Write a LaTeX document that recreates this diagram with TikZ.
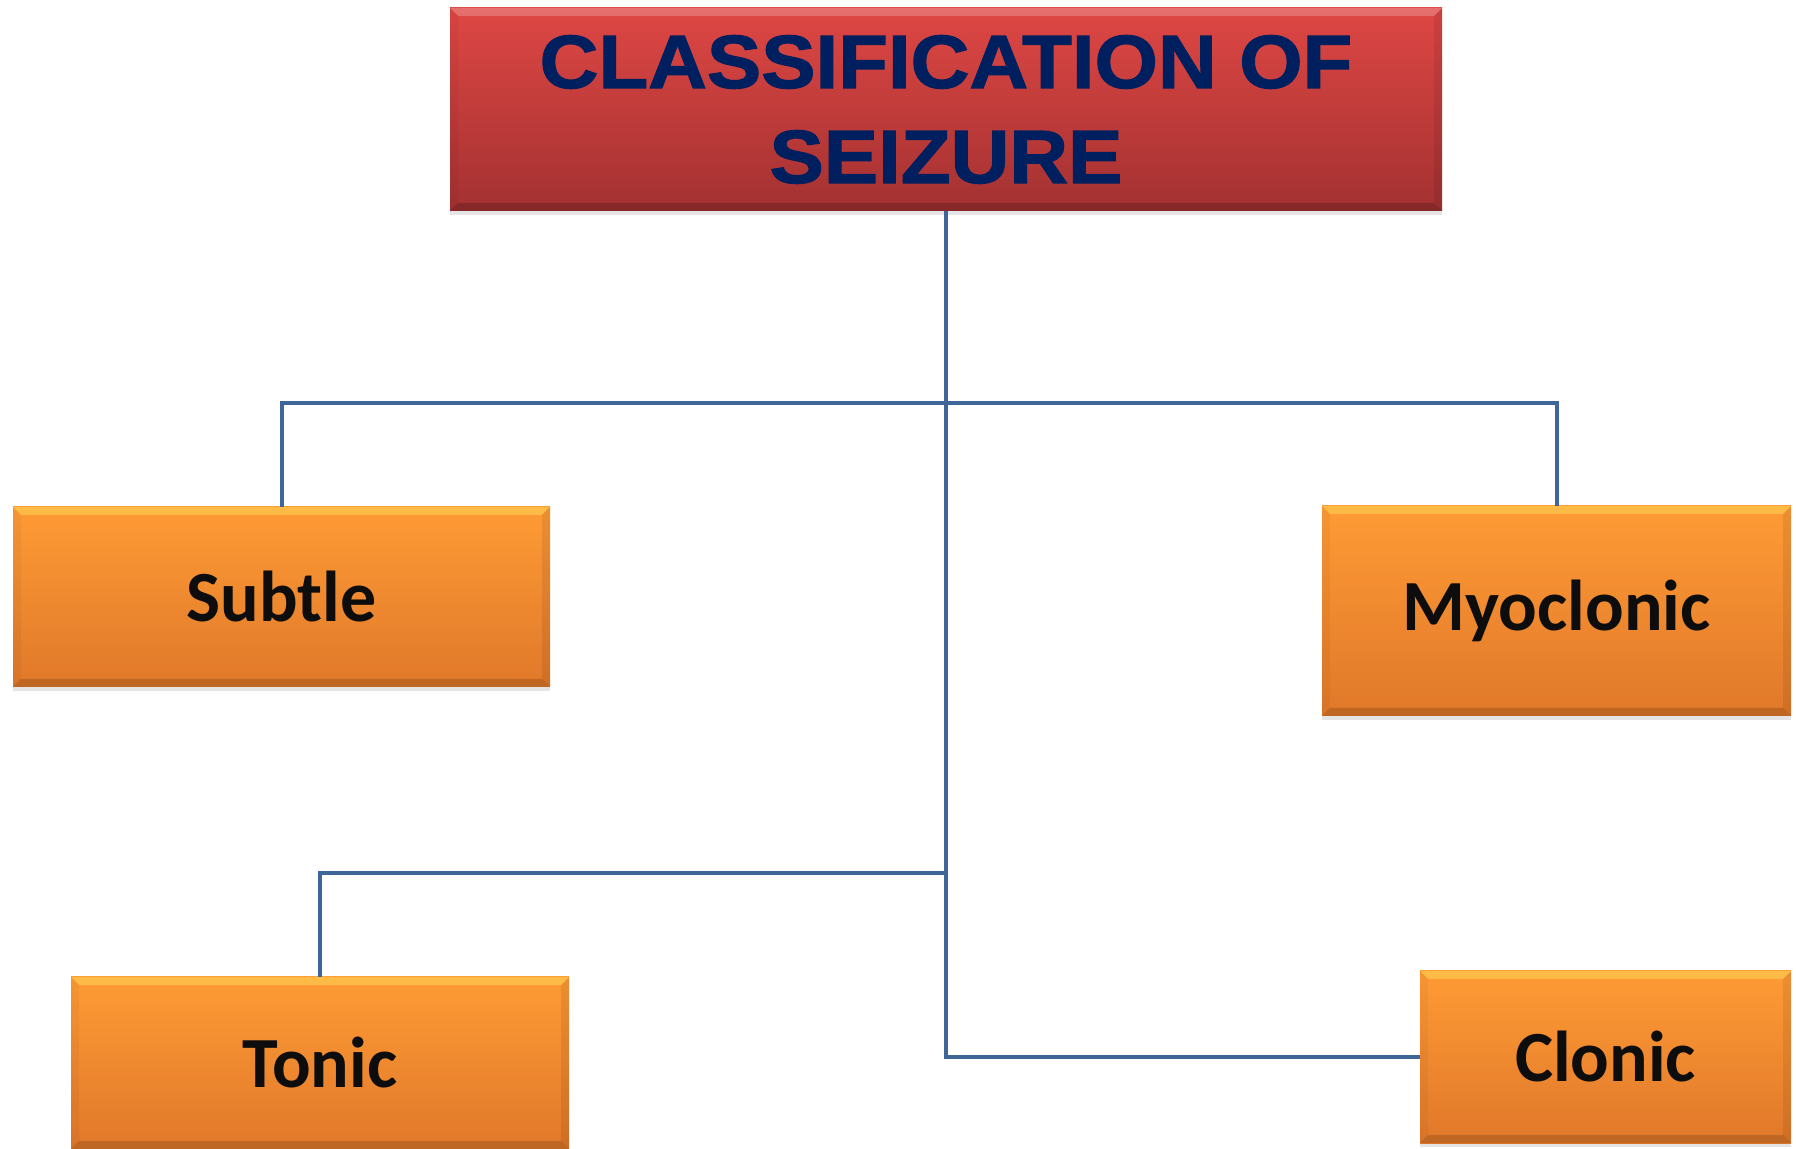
\documentclass[tikz,border=0pt]{standalone}
\usepackage{fontspec}
\setmainfont{Carlito}
\newfontfamily\titlefont[FakeStretch=1.08,FakeBold=1.6]{Liberation Sans}
\usetikzlibrary{shadows}
\definecolor{linec}{HTML}{3E6699}
\definecolor{redtop}{HTML}{DE4744}
\definecolor{redbot}{HTML}{A33131}
\definecolor{ortop}{HTML}{FF9B35}
\definecolor{orbot}{HTML}{E0782A}
\definecolor{navy}{HTML}{001F5F}
\definecolor{ink}{HTML}{0D0D0D}
\tikzset{
  conn/.style={draw=linec, line width=2pt},
  bevel/.style n args={2}{path picture={
    \fill[#1] (path picture bounding box.north west) -- (path picture bounding box.north east)
      -- ([shift={(-4pt,-4pt)}]path picture bounding box.north east)
      -- ([shift={(4pt,-4pt)}]path picture bounding box.north west) -- cycle;
    \fill[#2] (path picture bounding box.south west) -- (path picture bounding box.south east)
      -- ([shift={(-4pt,4pt)}]path picture bounding box.south east)
      -- ([shift={(4pt,4pt)}]path picture bounding box.south west) -- cycle;
    \fill[black,opacity=.04] (path picture bounding box.north west) -- ([shift={(4pt,-4pt)}]path picture bounding box.north west)
      -- ([shift={(4pt,4pt)}]path picture bounding box.south west) -- (path picture bounding box.south west) -- cycle;
    \fill[black,opacity=.08] (path picture bounding box.north east) -- ([shift={(-4pt,-4pt)}]path picture bounding box.north east)
      -- ([shift={(-4pt,4pt)}]path picture bounding box.south east) -- (path picture bounding box.south east) -- cycle;
  }},
  basebox/.style={rectangle, inner sep=0pt, outer sep=0pt,
    drop shadow={shadow xshift=0pt, shadow yshift=-2pt, opacity=.2}},
  titlebox/.style={basebox, top color=redtop, bottom color=redbot,
    bevel={white,opacity=.22}{black,opacity=.18},
    text=navy, font=\titlefont\bfseries\fontsize{37.7pt}{47.5pt}\selectfont, align=center},
  orbox/.style={basebox, top color=ortop, bottom color=orbot,
    bevel={yellow!60!white,opacity=.35}{black,opacity=.15},
    text=ink, font=\bfseries\fontsize{36pt}{40pt}\selectfont},
}
\begin{document}
\begin{tikzpicture}[x=0.5pt,y=-0.5pt]
\useasboundingbox (0,0) rectangle (1796,1149);
\fill[white] (0,0) rectangle (1796,1149);

\node[titlebox, minimum width=496pt, minimum height=101.5pt] (top) at (946,109.5)
  {CLASSIFICATION OF\\SEIZURE};
\node[orbox, minimum width=268.5pt, minimum height=90pt] (subtle) at (281.5,597) {Subtle};
\node[orbox, minimum width=234.5pt, minimum height=105pt] (myo) at (1556.5,611) {Myoclonic};
\node[orbox, minimum width=249pt, minimum height=86pt] (tonic) at (320,1063) {Tonic};
\node[orbox, minimum width=185.5pt, minimum height=86pt] (clonic) at (1605.5,1057) {Clonic};

\coordinate (j1) at (946,403);
\coordinate (j2) at (946,873);
\draw[conn] (top.south) |- (clonic.west);
\draw[conn] (j1) -| (subtle.north);
\draw[conn] (j1) -| (myo.north);
\draw[conn] (j2) -| (tonic.north);
\end{tikzpicture}
\end{document}
